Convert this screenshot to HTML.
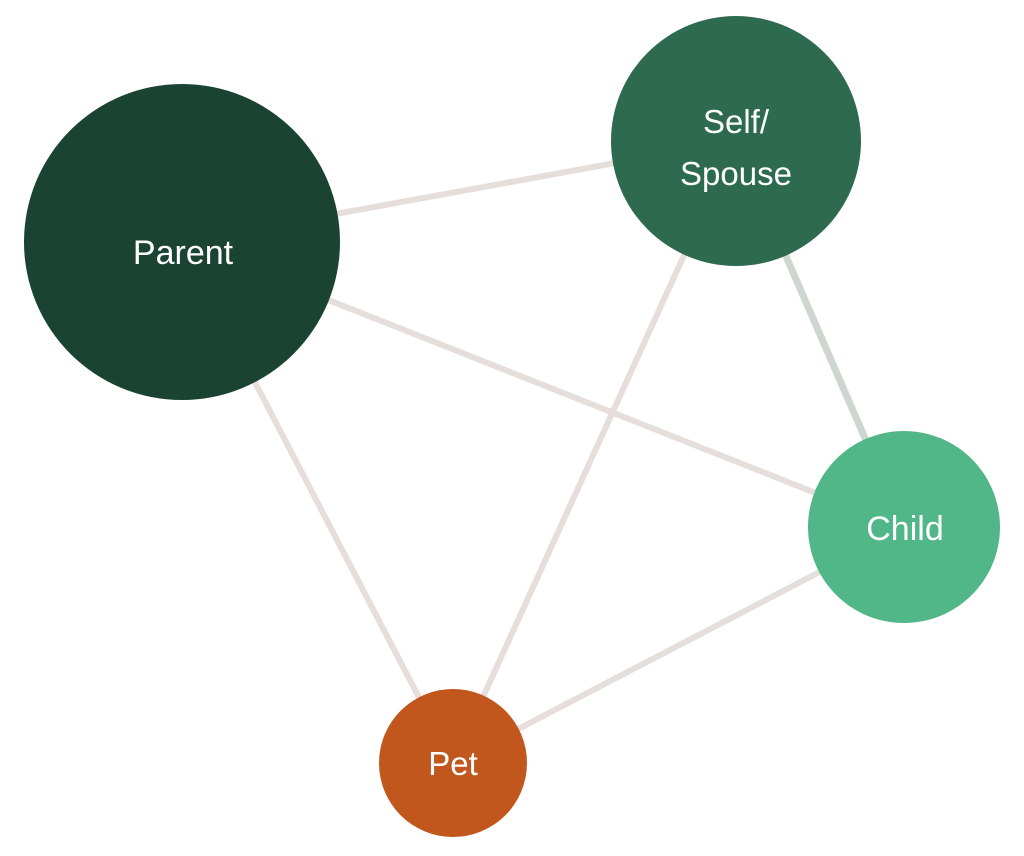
<!DOCTYPE html>
<html><head><meta charset="utf-8"><style>
html,body{margin:0;padding:0;background:#fff;}
svg{display:block}
text{font-family:"Liberation Sans",sans-serif;fill:#fff;text-anchor:middle;}
</style></head><body>
<svg width="1024" height="856" viewBox="0 0 1024 856" xmlns="http://www.w3.org/2000/svg">
<g stroke="#e6dedb" stroke-width="6" stroke-linecap="round">
<line x1="182" y1="242" x2="736" y2="141"/>
<line x1="182" y1="242" x2="904" y2="528"/>
<line x1="182" y1="242" x2="453" y2="763"/>
<line x1="736" y1="141" x2="453" y2="763"/>
<line x1="904" y1="528" x2="453" y2="763"/>
<line x1="736" y1="141" x2="904" y2="528" stroke="#cfd6cf" stroke-width="7"/>
</g>
<circle cx="182" cy="242" r="158" fill="#1b4332"/>
<circle cx="736" cy="141" r="125" fill="#2d6a4f"/>
<circle cx="904" cy="527" r="96" fill="#52b788"/>
<circle cx="453" cy="763" r="74" fill="#c2571e"/>
<text x="183" y="264" font-size="34">Parent</text>
<text x="736" y="133" font-size="33">Self/</text>
<text x="736" y="185" font-size="33">Spouse</text>
<text x="905" y="540" font-size="34">Child</text>
<text x="453" y="775" font-size="33">Pet</text>
</svg>
</body></html>
